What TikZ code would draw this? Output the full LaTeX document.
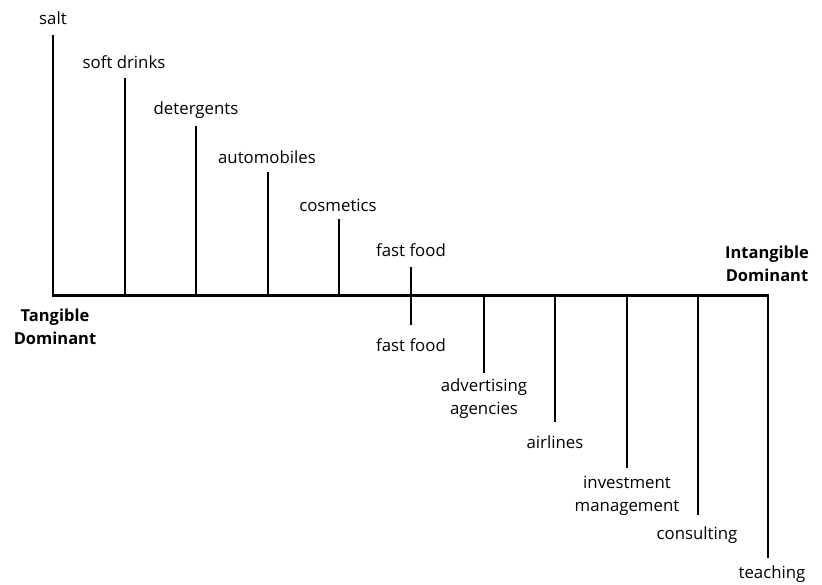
\documentclass[tikz,border=0pt]{standalone}
\usepackage{fontspec}
\setmainfont{Open Sans}
\begin{document}
\begin{tikzpicture}[x=1pt,y=-1pt,
  lbl/.style={font=\fontsize{16.8}{23}\selectfont, inner sep=0pt, align=center},
  bold/.style={font=\fontsize{16.5}{23}\selectfont\bfseries, inner sep=0pt, align=center},
  tickline/.style={line width=1.2pt, black},
  axisline/.style={line width=3pt, black, line cap=rect}]
\useasboundingbox (0,0) rectangle (822,585);
% axis
\coordinate (L) at (53,296);
\coordinate (R) at (767,296);
% ticks above
\coordinate (a1) at (53,296);  \coordinate (t1) at (53,35);
\coordinate (a2) at (125,296); \coordinate (t2) at (125,78);
\coordinate (a3) at (196,296); \coordinate (t3) at (196,126);
\coordinate (a4) at (268,296); \coordinate (t4) at (268,172);
\coordinate (a5) at (339,296); \coordinate (t5) at (339,219);
\coordinate (a6) at (411,296); \coordinate (t6) at (411,267); \coordinate (b6) at (411,325);
% ticks below
\coordinate (a7) at (484,296);  \coordinate (b7) at (484,373);
\coordinate (a8) at (555,296);  \coordinate (b8) at (555,422);
\coordinate (a9) at (627,296);  \coordinate (b9) at (627,468);
\coordinate (a10) at (698,296); \coordinate (b10) at (698,515);
\coordinate (a11) at (768,296); \coordinate (b11) at (768,558);

\draw[tickline] (a1) -- (t1);
\draw[tickline] (a2) -- (t2);
\draw[tickline] (a3) -- (t3);
\draw[tickline] (a4) -- (t4);
\draw[tickline] (a5) -- (t5);
\draw[tickline] (t6) -- (b6);
\draw[tickline] (a7) -- (b7);
\draw[tickline] (a8) -- (b8);
\draw[tickline] (a9) -- (b9);
\draw[tickline] (a10) -- (b10);
\draw[tickline] (a11) -- (b11);
\draw[axisline] (L) -- (R);

% labels
\node[lbl] (n1) at (53,18) {salt};
\node[lbl] (n2) at (124,62) {soft drinks};
\node[lbl] (n3) at (196,110) {detergents};
\node[lbl] (n4) at (267,157) {automobiles};
\node[lbl] (n5) at (338,205) {cosmetics};
\node[lbl] (n6) at (411,250) {fast food};
\node[lbl] (n6b) at (411,345) {fast food};
\node[lbl] (n7) at (484,399) {advertising\\agencies};
\node[lbl] (n8) at (555,442) {airlines};
\node[lbl] (n9) at (627,496) {investment\\management};
\node[lbl] (n10) at (697,535) {consulting};
\node[lbl] (n11) at (772,574) {teaching};
\node[bold] (tang) at (55,327) {Tangible\\Dominant};
\node[bold] (intang) at (767,264) {Intangible\\Dominant};
\end{tikzpicture}
\end{document}
